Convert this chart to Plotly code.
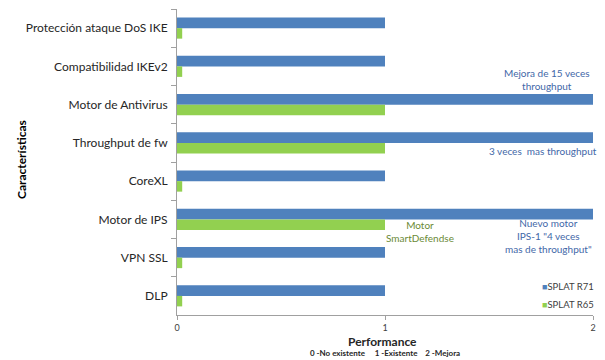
import plotly.graph_objects as go

categories = ["Protección ataque DoS IKE", "Compatibilidad IKEv2", "Motor de Antivirus",
              "Throughput de fw", "CoreXL", "Motor de IPS", "VPN SSL", "DLP"]
r71 = [1, 1, 2, 2, 1, 2, 1, 1]
r65 = [0.025, 0.025, 1, 1, 0.025, 1, 0.025, 0.025]
x_ticks = [0, 1, 2]
series_names = ["SPLAT R71", "SPLAT R65"]

BLUE = "#4f81bd"
GREEN = "#92d050"
FONT = "Lato"

fig = go.Figure()
fig.add_trace(go.Bar(y=categories, x=r71, orientation="h", name=series_names[0],
                     marker=dict(color=BLUE, line=dict(width=0)), showlegend=False))
fig.add_trace(go.Bar(y=categories, x=r65, orientation="h", name=series_names[1],
                     marker=dict(color=GREEN, line=dict(width=0)), showlegend=False))

fig.update_layout(
    width=605, height=360,
    margin=dict(l=177, r=12, t=9, b=45),
    paper_bgcolor="white", plot_bgcolor="white",
    barmode="group", bargap=0.45, bargroupgap=0,
    font=dict(family=FONT, size=12, color="#404040"),
    showlegend=False,
    xaxis=dict(range=[0, 2], tickvals=x_ticks, showgrid=False, zeroline=False,
               showline=True, linecolor="#a0a0a0", linewidth=1,
               ticks="outside", ticklen=4, tickcolor="#a0a0a0",
               tickfont=dict(size=9, color="#404040")),
    yaxis=dict(autorange="reversed", showgrid=False, showline=True,
               linecolor="#a0a0a0", linewidth=1, ticks="outside", ticklen=5,
               tickcolor="#a0a0a0", tickson="boundaries", ticklabelstandoff=6,
               tickfont=dict(size=12, color="#262626")),
)

W = 416
H = 306
def px(x):
    return (x - 177) / W
def py(y):
    return (315 - y) / H

annos = [
    dict(text="<b>Características</b>", x=px(21), y=py(160), textangle=-90,
         font=dict(size=12, color="#000000")),
    dict(text="<b>Performance</b>", x=px(382), y=py(341), font=dict(size=12, color="#262626")),
    dict(text="<b>0 -No existente     1 -Existente    2 -Mejora</b>", x=px(385), y=py(353),
         font=dict(size=8, color="#262626")),
    dict(text="Mejora de 15 veces<br>throughput", x=px(547), y=py(80),
         font=dict(size=10, color="#3f68a8")),
    dict(text="3 veces  mas throughput", x=px(543), y=py(151),
         font=dict(size=10, color="#3f68a8")),
    dict(text="Motor<br>SmartDefendse", x=px(420), y=py(231),
         font=dict(size=10, color="#6a8a35")),
    dict(text="Nuevo motor<br>IPS-1 \"4 veces<br>mas de throughput\"", x=px(548), y=py(236),
         font=dict(size=10, color="#3f68a8")),
]
for a in annos:
    fig.add_annotation(xref="paper", yref="paper", showarrow=False,
                       xanchor="center", yanchor="middle", **a)

# legend entries
for name, col, ypix in zip(series_names, [BLUE, GREEN], [286, 304]):
    fig.add_annotation(xref="paper", yref="paper", showarrow=False,
                       xanchor="right", yanchor="middle", x=px(596), y=py(ypix),
                       text=f"<span style='color:{col};font-size:9px'>■</span>{name}",
                       font=dict(size=9.5, color="#404040"))

fig.write_html("out.html")
